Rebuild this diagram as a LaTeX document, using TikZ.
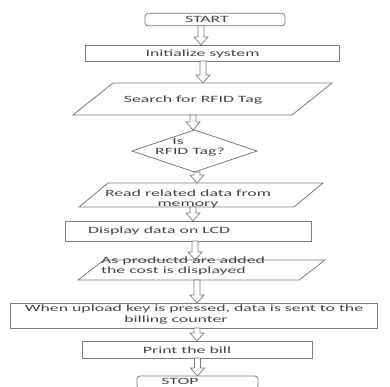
\documentclass[tikz,border=0pt]{standalone}
\usepackage{fontspec}
\setmainfont[FakeStretch=1.85]{Carlito}
\usetikzlibrary{calc}
\definecolor{linegray}{RGB}{125,125,125}
\definecolor{txt}{RGB}{70,70,70}
\begin{document}
\begin{tikzpicture}[x=1pt,y=-1pt,
  frame/.style={inner sep=0pt, outer sep=0pt, draw=linegray, line width=0.8pt},
  ghost/.style={inner sep=0pt, outer sep=0pt},
  shp/.style={draw=linegray, line width=0.8pt},
  lbl/.style={font=\fontsize{9.6}{10.5}\selectfont, text=txt, inner sep=0pt, align=center},
  blockarrow/.style={draw=linegray, line width=0.7pt, fill=white,
    to path={let \p1=(\tikztostart), \p2=(\tikztotarget) in
      (\x2,\y2) -- ({\x2-7pt},{\y2+8pt}) -- ({\x2-3pt},{\y2+8pt}) -- ({\x2-3pt},\y1)
      -- ({\x2+3pt},\y1) -- ({\x2+3pt},{\y2+8pt}) -- ({\x2+7pt},{\y2+8pt}) -- cycle}}]
\fill[white] (0,0) rectangle (390,386);
\useasboundingbox (0,0) rectangle (390,386);

% shapes
\node[frame, rounded corners=3pt, minimum width=140pt, minimum height=12.5pt] (start) at (215,19.5) {};
\node[frame, minimum width=254pt, minimum height=16pt] (init) at (212,53) {};
\node[ghost, minimum width=259pt, minimum height=32pt] (search) at (202.5,99) {};
\node[ghost, minimum width=125pt, minimum height=42pt] (dec) at (194.5,151) {};
\node[ghost, minimum width=244pt, minimum height=24pt] (read) at (201,195) {};
\node[frame, minimum width=246pt, minimum height=20pt] (disp) at (188,231) {};
\node[ghost, minimum width=247pt, minimum height=20pt] (prod) at (201.5,270) {};
\node[frame, minimum width=367pt, minimum height=25pt] (upl) at (193.5,315.5) {};
\node[frame, minimum width=230pt, minimum height=17pt] (print) at (197,349.5) {};
\node[frame, rounded corners=3pt, minimum width=121pt, minimum height=13pt] (stop) at (197.5,382.5) {};

\draw[shp] (search.south west) -- ([xshift=-40pt]search.south east) -- (search.north east) -- ([xshift=40pt]search.north west) -- cycle;
\draw[shp] (dec.west) -- (dec.north) -- (dec.east) -- (dec.south) -- cycle;
\draw[shp] (read.south west) -- ([xshift=-29pt]read.south east) -- (read.north east) -- ([xshift=29pt]read.north west) -- cycle;
\draw[shp] (prod.south west) -- ([xshift=-26pt]prod.south east) -- (prod.north east) -- ([xshift=26pt]prod.north west) -- cycle;

% arrows
\draw[blockarrow] (start.south) to ([xshift=-11pt]init.north);
\draw[blockarrow] (init.south) to ([xshift=0.5pt]search.north);
\draw[blockarrow] (search.south) to ([xshift=-1.5pt]dec.north);
\draw[blockarrow] (dec.south) to ([xshift=-4pt]read.north);
\draw[blockarrow] (read.south) to ([xshift=5pt]disp.north);
\draw[blockarrow] (disp.south) to ([xshift=-6.5pt]prod.north);
\draw[blockarrow] (prod.south) to ([xshift=3.5pt]upl.north);
\draw[blockarrow] (upl.south) to (print.north);
\draw[blockarrow] (print.south) to (stop.north);

% texts
\node[lbl] (tstart) at (207,19.5) {START};
\node[lbl] (tinit) at (202.5,53.5) {Initialize system};
\node[lbl] (tsearch) at (193,99.5) {Search for RFID Tag};
\node[lbl] (tdec) at (190,147) {\hspace*{-24pt}Is\\RFID Tag?};
\node[lbl] (tread) at (188,199) {Read related data from\\memory};
\node[lbl, anchor=west] (tdisp) at (88,231) {Display data on LCD};
\node[lbl, anchor=west, align=left] (tprod) at (101,266) {As productd are added\\the cost is displayed};
\node[lbl] (tupl) at (194,314.5) {When upload key is pressed, data is sent to the\\\hspace*{-36pt}billing counter};
\node[lbl] (tprint) at (187,350) {Print the bill};
\node[lbl] (tstop) at (180,381.5) {STOP};
\end{tikzpicture}
\end{document}
